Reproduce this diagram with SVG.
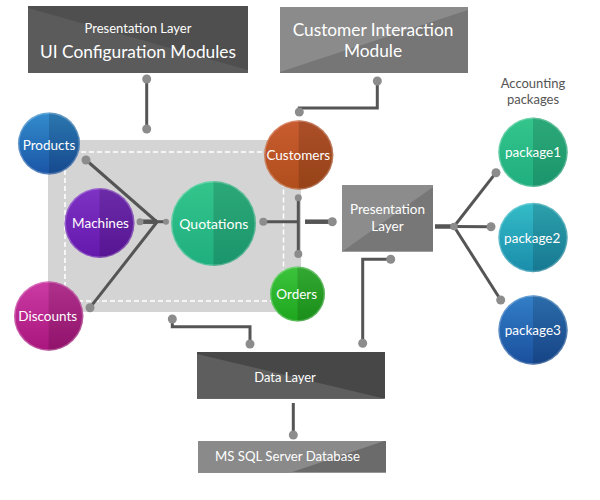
<svg xmlns="http://www.w3.org/2000/svg" width="600" height="500" viewBox="0 0 600 500">
<style>
  text { font-family: Lato, "Open Sans", "Liberation Sans", sans-serif; fill: #ffffff; text-anchor: middle; }
  .lbl { font-size: 13.5px; }
  .cap { font-size: 13px; fill: #555555; }
  .ln { stroke: #555555; stroke-width: 3; fill: none; stroke-linecap: butt; }
  .lnb { stroke: #555555; stroke-width: 4.5; fill: none; }
  .dot { fill: #8c8c8c; }
  .rim { fill: none; stroke: #ffffff; stroke-opacity: 0.25; stroke-width: 1.5; }
  .shade { fill: #000000; fill-opacity: 0.14; }
</style>
<defs>
  <linearGradient id="gBlue" x1="0" y1="0" x2="0" y2="1"><stop offset="0" stop-color="#338ccd"/><stop offset="1" stop-color="#1a55a6"/></linearGradient>
  <linearGradient id="gPurple" x1="0" y1="0" x2="0" y2="1"><stop offset="0" stop-color="#7e33c4"/><stop offset="1" stop-color="#6518ac"/></linearGradient>
  <linearGradient id="gGreen" x1="0" y1="0" x2="0" y2="1"><stop offset="0" stop-color="#34c58c"/><stop offset="1" stop-color="#1fae7e"/></linearGradient>
  <linearGradient id="gMagenta" x1="0" y1="0" x2="0" y2="1"><stop offset="0" stop-color="#cc3aa4"/><stop offset="1" stop-color="#a8157c"/></linearGradient>
  <linearGradient id="gOrange" x1="0" y1="0" x2="0" y2="1"><stop offset="0" stop-color="#c85c30"/><stop offset="1" stop-color="#b04e1c"/></linearGradient>
  <linearGradient id="gLime" x1="0" y1="0" x2="0" y2="1"><stop offset="0" stop-color="#3cc43c"/><stop offset="1" stop-color="#1ea61e"/></linearGradient>
  <linearGradient id="gTeal" x1="0" y1="0" x2="0" y2="1"><stop offset="0" stop-color="#34bcc8"/><stop offset="1" stop-color="#1a8caa"/></linearGradient>
  <linearGradient id="gNavy" x1="0" y1="0" x2="0" y2="1"><stop offset="0" stop-color="#337fc8"/><stop offset="1" stop-color="#1a4f9c"/></linearGradient>
</defs>

<rect id="background" x="0" y="0" width="600" height="500" fill="#ffffff"/>

<!-- container region -->
<g id="quotation-area">
  <rect x="48" y="140" width="253" height="172" fill="#d4d4d4"/>
  <rect x="65" y="152" width="218.5" height="149" fill="none" stroke="#ffffff" stroke-width="1.5" stroke-dasharray="5 3"/>
</g>

<!-- connectors -->
<g id="connectors">
  <line class="ln" x1="146.7" y1="79" x2="146.7" y2="129" stroke-width="3.5"/>
  <circle class="dot" cx="146.7" cy="79" r="4.5"/>
  <circle class="dot" cx="146.7" cy="129" r="4.5"/>
  <polyline class="ln" points="377.3,81 377.3,108 299.3,108 299.3,112" stroke-width="3.5"/>
  <circle class="dot" cx="377.3" cy="81" r="4.5"/>
  <circle class="dot" cx="299.3" cy="112" r="4.5"/>
  <line class="ln" x1="86" y1="160" x2="157" y2="222"/>
  <line class="ln" x1="90" y1="307.7" x2="157" y2="222"/>
  <line class="lnb" x1="140" y1="221.7" x2="157" y2="221.7"/>
  <line class="ln" x1="157" y1="221.7" x2="166" y2="221.7"/>
  <circle class="dot" cx="86" cy="160" r="4.5"/>
  <circle class="dot" cx="90" cy="307.7" r="4.5"/>
  <circle class="dot" cx="140" cy="221.7" r="3.5"/>
  <circle class="dot" cx="166" cy="221.7" r="3"/>
  <line class="ln" x1="263.3" y1="221.7" x2="298.3" y2="221.7"/>
  <line class="ln" x1="298.3" y1="197.7" x2="298.3" y2="254"/>
  <circle class="dot" cx="263.3" cy="221.7" r="4"/>
  <circle class="dot" cx="298.3" cy="197.7" r="3.5"/>
  <circle class="dot" cx="298.3" cy="254" r="4"/>
  <line class="lnb" x1="305" y1="221.7" x2="332" y2="221.7"/>
  <circle class="dot" cx="332.3" cy="221.7" r="4.5"/>
  <line class="lnb" x1="435" y1="226.5" x2="454" y2="226.5"/>
  <line class="ln" x1="454" y1="226.5" x2="496" y2="172.7"/>
  <line class="ln" x1="454" y1="226.5" x2="491" y2="226.7"/>
  <line class="ln" x1="454" y1="226.5" x2="500.7" y2="300"/>
  <circle class="dot" cx="454" cy="226.5" r="3.8"/>
  <circle class="dot" cx="496" cy="172.7" r="4.5"/>
  <circle class="dot" cx="491" cy="226.7" r="4.5"/>
  <circle class="dot" cx="500.7" cy="300" r="4.5"/>
  <polyline class="ln" points="390.7,259.3 362.7,259.3 362.7,343.3" stroke-width="3.5"/>
  <circle class="dot" cx="390.7" cy="259.3" r="4.5"/>
  <circle class="dot" cx="362.7" cy="343.3" r="4.5"/>
  <polyline class="ln" points="172.3,319 172.3,326.7 250,326.7 250,344" stroke-width="3.5"/>
  <circle class="dot" cx="172.3" cy="319" r="4.5"/>
  <circle class="dot" cx="250" cy="344" r="4.5"/>
  <line class="ln" x1="293.3" y1="403" x2="293.3" y2="435" stroke-width="4"/>
  <circle class="dot" cx="293.3" cy="435" r="4.5"/>
</g>

<!-- boxes -->
<g id="ui-config">
  <rect x="28" y="6" width="220" height="67" fill="#4f4f4f"/>
  <polygon points="28,8 248,70 248,73 28,73" fill="#5b5b5b"/>
  <text x="138" y="32.5" style="font-size:13px">Presentation Layer</text>
  <text x="138" y="57.5" style="font-size:17.3px">UI Configuration Modules</text>
</g>
<g id="customer-interaction">
  <rect x="280" y="7" width="188" height="66" fill="#767676"/>
  <polygon points="280,7 468,7 468,10 280,72" fill="#8b8b8b"/>
  <text x="373" y="36" style="font-size:17.3px">Customer Interaction</text>
  <text x="373" y="57" style="font-size:17.3px">Module</text>
</g>
<g id="presentation-layer">
  <rect x="342" y="185" width="91" height="66.7" fill="#777777"/>
  <polygon points="342,185 433,185 433,187 342,251.7" fill="#8c8c8c"/>
  <text class="lbl" x="387.5" y="214">Presentation</text>
  <text class="lbl" x="387.5" y="230.5">Layer</text>
</g>
<g id="data-layer">
  <rect x="197" y="352" width="188" height="46.7" fill="#474747"/>
  <polygon points="197,354 385,398.7 197,398.7" fill="#5e5e5e"/>
  <text x="285" y="382" style="font-size:13px">Data Layer</text>
</g>
<g id="ms-sql">
  <rect x="198" y="441" width="188" height="31.7" fill="#6b6b6b"/>
  <polygon points="198,441 384,441 290,472.7 198,472.7" fill="#8a8a8a"/>
  <text x="287.5" y="461" style="font-size:13.2px">MS SQL Server Database</text>
</g>

<text id="accounting-label" class="cap"><tspan x="533" y="88">Accounting</tspan><tspan x="533" y="103.5">packages</tspan></text>

<!-- circle nodes -->
<g id="products">
  <circle cx="49" cy="143.5" r="31" fill="url(#gBlue)"/>
  <path class="shade" d="M49,112.5 A31,31 0 0 1 49,174.5 Z"/>
  <circle class="rim" cx="49" cy="143.5" r="30.3"/>
  <text class="lbl" x="49" y="149.5">Products</text>
</g>
<g id="machines">
  <circle cx="99.5" cy="223" r="35" fill="url(#gPurple)"/>
  <path class="shade" d="M99.5,188 A35,35 0 0 1 99.5,258 Z"/>
  <circle class="rim" cx="99.5" cy="223" r="34.3"/>
  <text class="lbl" x="100.5" y="228">Machines</text>
</g>
<g id="quotations">
  <circle cx="213.5" cy="223.5" r="42.5" fill="url(#gGreen)"/>
  <path class="shade" d="M213.5,181 A42.5,42.5 0 0 1 213.5,266 Z"/>
  <circle class="rim" cx="213.5" cy="223.5" r="41.8"/>
  <text x="213.8" y="228.5" style="font-size:14px">Quotations</text>
</g>
<g id="discounts">
  <circle cx="48.7" cy="316" r="34.7" fill="url(#gMagenta)"/>
  <path class="shade" d="M48.7,281.3 A34.7,34.7 0 0 1 48.7,350.7 Z"/>
  <circle class="rim" cx="48.7" cy="316" r="34"/>
  <text class="lbl" x="47.7" y="321">Discounts</text>
</g>
<g id="customers">
  <circle cx="298.7" cy="155" r="34.7" fill="url(#gOrange)"/>
  <path class="shade" d="M298.7,120.3 A34.7,34.7 0 0 1 298.7,189.7 Z"/>
  <circle class="rim" cx="298.7" cy="155" r="34"/>
  <text class="lbl" x="298.3" y="160">Customers</text>
</g>
<g id="orders">
  <circle cx="297.5" cy="294" r="27.5" fill="url(#gLime)"/>
  <path class="shade" d="M297.5,266.5 A27.5,27.5 0 0 1 297.5,321.5 Z"/>
  <circle class="rim" cx="297.5" cy="294" r="26.8"/>
  <text class="lbl" x="296.7" y="298.5">Orders</text>
</g>
<g id="package1">
  <circle cx="533" cy="152.3" r="34.7" fill="url(#gGreen)"/>
  <path class="shade" d="M533,117.6 A34.7,34.7 0 0 1 533,187 Z"/>
  <circle class="rim" cx="533" cy="152.3" r="34"/>
  <text class="lbl" x="533" y="157">package1</text>
</g>
<g id="package2">
  <circle cx="533" cy="237.5" r="34.7" fill="url(#gTeal)"/>
  <path class="shade" d="M533,202.8 A34.7,34.7 0 0 1 533,272.2 Z"/>
  <circle class="rim" cx="533" cy="237.5" r="34"/>
  <text class="lbl" x="532.2" y="242.5">package2</text>
</g>
<g id="package3">
  <circle cx="533" cy="330" r="34.7" fill="url(#gNavy)"/>
  <path class="shade" d="M533,295.3 A34.7,34.7 0 0 1 533,364.7 Z"/>
  <circle class="rim" cx="533" cy="330" r="34"/>
  <text class="lbl" x="532.8" y="334.5">package3</text>
</g>
</svg>
